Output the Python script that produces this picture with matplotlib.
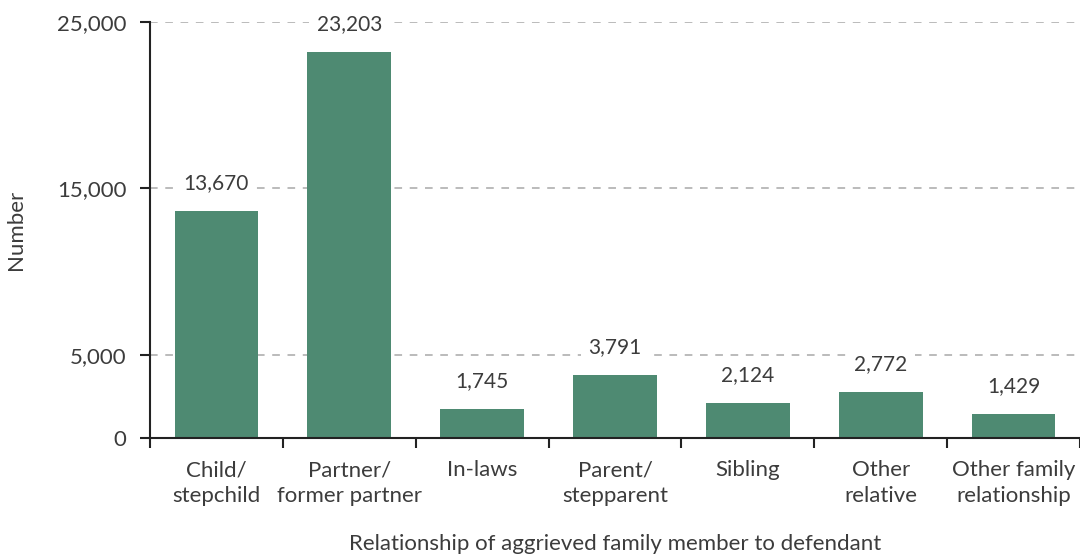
import matplotlib
matplotlib.use("Agg")
import matplotlib.pyplot as plt
import numpy as np

categories = ["Child/\nstepchild", "Partner/\nformer partner", "In-laws",
              "Parent/\nstepparent", "Sibling", "Other\nrelative",
              "Other family\nrelationship"]
counts = [13670, 23203, 1745, 3791, 2124, 2772, 1429]
yticks = [0, 5000, 15000, 25000]

plt.rcParams['font.family'] = ['Lato', 'DejaVu Sans']
text_col = '#3c3c3c'
bar_col = '#4e8a72'

fig = plt.figure(figsize=(10.8, 5.58), dpi=100)
ax = fig.add_axes([150/1080, 120/558, 930/1080, 416/558])

x = np.arange(len(categories))
ax.bar(x, counts, width=0.63, color=bar_col, zorder=2)

for yv in yticks[1:]:
    ax.axhline(yv, color='#a8a8a8', lw=1.1, ls=(0, (5, 5)), zorder=1)

for xi, v in zip(x, counts):
    ax.annotate(f"{v:,}", (xi, v), xytext=(0, 20), textcoords='offset points',
                ha='center', va='center', fontsize=15, color=text_col,
                bbox=dict(boxstyle='square,pad=0.35', fc='white', ec='none'),
                zorder=3)

ax.set_xlim(-0.5, len(categories) - 0.5)
ax.set_ylim(0, 25000)
ax.set_yticks(yticks)
ax.set_yticklabels([f"{t:,}" for t in yticks])
ax.set_xticks(x)
ax.set_xticklabels(categories, fontsize=16, color=text_col, linespacing=1.35)
ax.set_xticks(np.arange(len(categories) + 1) - 0.5, minor=True)
ax.tick_params(axis='x', which='major', length=0, pad=16)
ax.tick_params(axis='x', which='minor', length=7, width=1.5, color='#222222')
ax.tick_params(axis='y', length=7, width=1.5, color='#222222', pad=10,
               labelsize=16, labelcolor=text_col)

for s in ['top', 'right']:
    ax.spines[s].set_visible(False)
for s in ['left', 'bottom']:
    ax.spines[s].set_linewidth(1.5)
    ax.spines[s].set_color('#222222')

ax.set_xlabel("Relationship of aggrieved family member to defendant",
              fontsize=16, color=text_col, labelpad=20)
ax.set_ylabel("Number", fontsize=16, color=text_col, labelpad=22)

fig.savefig("out.png", dpi=100)
